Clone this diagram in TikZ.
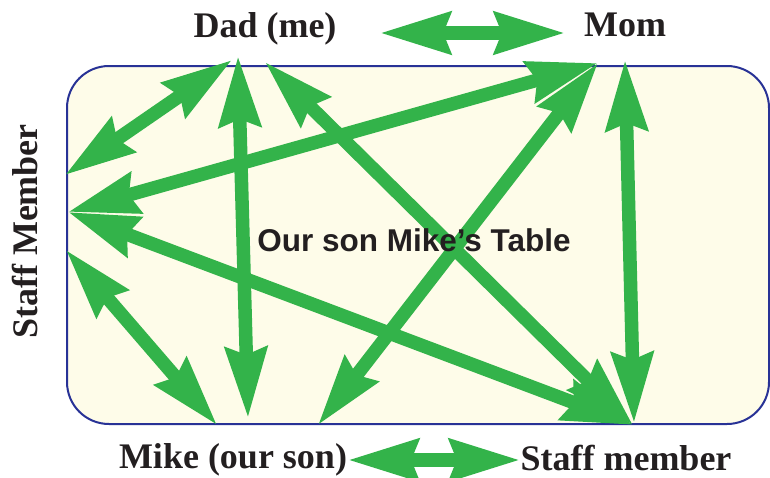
\documentclass[tikz,border=0pt]{standalone}
\usepackage{fontspec}
\setmainfont{Liberation Serif}
\newfontfamily\sansfam{Liberation Sans}
\usetikzlibrary{arrows.meta}
\definecolor{arrgreen}{RGB}{51,179,74}
\definecolor{boxfill}{RGB}{254,252,233}
\definecolor{boxline}{RGB}{40,50,150}
\definecolor{txt}{RGB}{35,31,32}
\tikzset{
  lbl/.style={font=\fontsize{36}{40}\selectfont\bfseries, text=txt, inner sep=0pt, anchor=base},
  midlbl/.style={font=\sansfam\fontsize{31.5}{36}\selectfont\bfseries, text=txt, inner sep=0pt, anchor=base},
  dbl/.style={draw=arrgreen, line width=13.5pt,
    {Stealth[length=70pt,width=41pt,inset=7pt]}-{Stealth[length=70pt,width=41pt,inset=7pt]}},
}
\begin{document}
\begin{tikzpicture}[x=1pt,y=-1pt]
\useasboundingbox (0,0) rectangle (770,477);
\draw[fill=boxfill, draw=boxline, line width=2pt, rounded corners=42pt] (67,66) rectangle (769,424);
% labels
\node[lbl] (dad) at (265,37) {Dad (me)};
\node[lbl] (mom) at (625,36) {Mom};
\node[lbl] (mike) at (233,468) {Mike (our son)};
\node[lbl] (staffb) at (626,470) {Staff member};
\node[lbl, rotate=90] (staffl) at (37,231.5) {Staff Member};
% end points
\coordinate (dA) at (232,60);
\coordinate (dB) at (238,56);
\coordinate (dC) at (265,62);
\coordinate (mA) at (598,63);
\coordinate (mB) at (625,60);
\coordinate (lA) at (65,175);
\coordinate (lB) at (68,212);
\coordinate (lC) at (66,250);
\coordinate (bA) at (217,425);
\coordinate (bB) at (248,418);
\coordinate (bC) at (318,425);
\coordinate (sA) at (633,425);
\coordinate (sB) at (634,423);
\coordinate (tL) at (380,33);
\coordinate (tR) at (565,33);
\coordinate (uL) at (348,460);
\coordinate (uR) at (520,460);
% arrows
\draw[dbl] (dA) -- (lA);
\draw[dbl] (dB) -- (bB);
\draw[dbl] (dC) -- (sA);
\draw[dbl] (mA) -- (lB);
\draw[dbl] (mA) -- (bC);
\draw[dbl] (mB) -- (sB);
\draw[dbl] (lB) -- (sA);
\draw[dbl] (lC) -- (bA);
\draw[dbl] (tL) -- (tR);
\draw[dbl] (uL) -- (uR);
% centre title above the arrows
\node[midlbl] (table) at (414,251) {Our son Mike’s Table};
\end{tikzpicture}
\end{document}
